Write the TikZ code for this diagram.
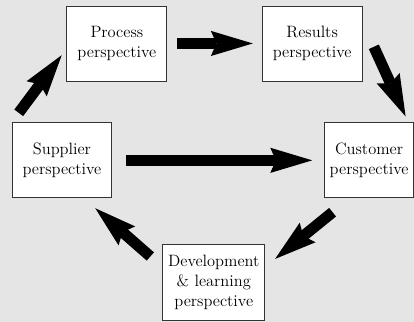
\documentclass[tikz,border=0pt]{standalone}
\usepackage{tikz}
\usetikzlibrary{arrows.meta}

\begin{document}
\begin{tikzpicture}[x=0.025cm, y=-0.025cm,
    font=\fontsize{11.7}{14.2}\selectfont,
    persp/.style={draw=black!80, line width=0.6pt, fill=white, align=center,
        minimum width=2.5cm, minimum height=1.875cm, inner sep=1pt},
    bigarrow/.style={line width=0.275cm,
        -{Stealth[length=1.05cm, width=0.63cm, inset=0.14cm, line width=0pt]}}]
    % grey sheet behind the five boxes
    \fill[black!10] (0,0) rectangle (414,322);
    \node[persp] (process) at (117,43.5) {Process\\perspective};
    \node[persp] (results) at (312.5,43.5) {Results\\perspective};
    \node[persp] (supplier) at (62,160.5) {Supplier\\perspective};
    \node[persp, minimum width=2.225cm] (customer) at (369.5,160.5) {Customer\\perspective};
    \node[persp, minimum width=2.55cm, minimum height=1.9cm] (development) at (214,283)
        {Development\\\& learning\\perspective};
    % the loop of fat arrows
    \draw[bigarrow, shorten <=0.3cm, shorten >=0.2cm] (supplier.north west) -- (process.186);
    \draw[bigarrow, shorten <=0.25cm, shorten >=0.225cm] (process) -- (results);
    \draw[bigarrow, shorten <=0.68cm, shorten >=0.165cm] (results.23) -- (customer.44);
    \draw[bigarrow, shorten <=0.555cm, shorten >=0.32cm] (customer.243) -- (development.17);
    \draw[bigarrow, shorten <=0.4cm, shorten >=0.38cm] (development.163) -- (supplier.300);
    \draw[bigarrow, shorten <=0.35cm, shorten >=0.3cm] (supplier) -- (customer);
\end{tikzpicture}
\end{document}
